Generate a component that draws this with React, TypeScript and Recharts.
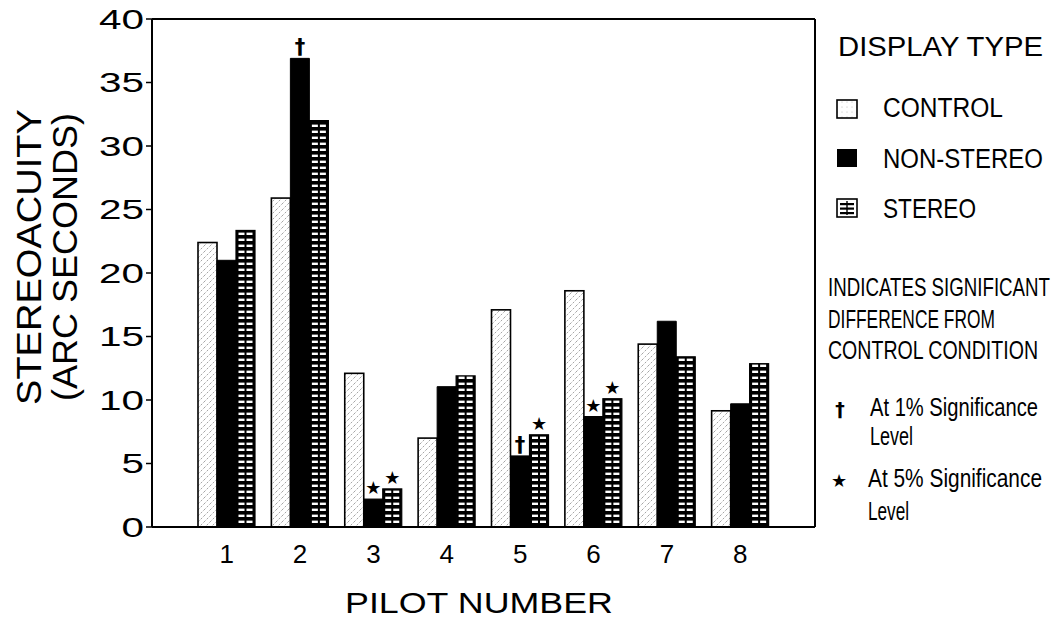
import React from "react";
import {
  BarChart,
  Bar,
  XAxis,
  YAxis,
  LabelList,
  Label,
  Legend,
} from "recharts";

const pilots = ["1", "2", "3", "4", "5", "6", "7", "8"];
const control = [22.4, 25.9, 12.1, 7.0, 17.1, 18.6, 14.4, 9.15];
const nonStereo = [21.0, 36.9, 2.2, 11.05, 5.6, 8.7, 16.2, 9.7];
const stereo = [23.35, 32.0, 3.0, 11.9, 7.26, 10.1, 13.4, 12.86];
const nonStereoMarks = ["", "†", "★", "", "†", "★", "", ""];
const stereoMarks = ["", "", "★", "", "★", "★", "", ""];
const yTicks = [0, 5, 10, 15, 20, 25, 30, 35, 40];

const data = pilots.map((p, i) => ({
  pilot: p,
  control: control[i],
  nonStereo: nonStereo[i],
  stereo: stereo[i],
}));

const FONT = "'Liberation Sans', Arial, Helvetica, sans-serif";

const ControlShape = (props: any) => {
  const { x, y, width, height } = props;
  return (
    <rect
      x={x}
      y={y}
      width={width}
      height={height}
      fill="url(#ctrlHatch)"
      stroke="#000"
      strokeWidth={1.6}
    />
  );
};

const StereoShape = (props: any) => {
  const { x, y, width, height } = props;
  const rows: number[] = [];
  for (let yy = y + height - 4; yy > y + 3; yy -= 6) rows.push(yy);
  const dw = (width - 7) / 2;
  return (
    <g>
      <rect x={x} y={y} width={width} height={height} fill="#000" stroke="#000" strokeWidth={1.2} />
      {rows.map((yy, k) => (
        <g key={k}>
          <rect x={x + 2.5} y={yy - 2.4} width={dw} height={2.4} fill="#fff" />
          <rect x={x + width / 2 + 1} y={yy - 2.4} width={dw} height={2.4} fill="#fff" />
        </g>
      ))}
    </g>
  );
};

const makeMarker = (marks: string[]) => (props: any) => {
  const { x, y, width, index } = props;
  const m = marks[index];
  if (!m) return null;
  const isDagger = m === "†";
  return (
    <text
      x={x + width / 2}
      y={y - (isDagger ? 4 : 5)}
      textAnchor="middle"
      fontSize={isDagger ? 21 : 18}
      fontWeight={isDagger ? "bold" : "normal"}
      fontFamily="'DejaVu Sans', sans-serif"
      fill="#000"
    >
      {m}
    </text>
  );
};

const YTick = (props: any) => {
  const { x, y, payload } = props;
  const s = String(payload.value);
  return (
    <text
      x={x}
      y={y + 9.5}
      textAnchor="end"
      fontSize={27}
      fontFamily={FONT}
      fill="#000"
      textLength={22.5 * s.length}
      lengthAdjust="spacingAndGlyphs"
    >
      {s}
    </text>
  );
};

const YLabel = (props: any) => {
  const vb = props.viewBox || { y: 20, height: 507 };
  const cy = vb.y + vb.height / 2 - 16;
  return (
    <g fontFamily={FONT} fill="#000">
      <text
        transform={`translate(41, ${cy}) rotate(-90)`}
        textAnchor="middle"
        fontSize={35}
        textLength={296}
        lengthAdjust="spacingAndGlyphs"
      >
        STEREOACUITY
      </text>
      <text
        transform={`translate(77, ${cy}) rotate(-90)`}
        textAnchor="middle"
        fontSize={35}
        textLength={288}
        lengthAdjust="spacingAndGlyphs"
      >
        (ARC SECONDS)
      </text>
    </g>
  );
};

const XLabel = () => (
  <text
    x={345}
    y={613}
    fontSize={30}
    fontFamily={FONT}
    fill="#000"
    textLength={268}
    lengthAdjust="spacingAndGlyphs"
  >
    PILOT NUMBER
  </text>
);

const T = (p: { x: number; y: number; w: number; s: number; sx: number; children: string }) => (
  <text
    transform={`translate(${p.x - 820}, ${p.y}) scale(${p.sx}, 1)`}
    fontSize={p.s}
    fontFamily={FONT}
    fill="#000"
    textLength={p.w / p.sx}
    lengthAdjust="spacingAndGlyphs"
  >
    {p.children}
  </text>
);

const LegendContent = () => (
  <svg width={240} height={621} style={{ display: "block" }}>
    <T x={838} y={56} w={205} s={27} sx={1}>DISPLAY TYPE</T>
    <rect x={837 - 820} y={100} width={20} height={18} fill="url(#ctrlHatchL)" stroke="#000" strokeWidth={1.6} />
    <T x={883} y={117} w={120} s={27} sx={0.92}>CONTROL</T>
    <rect x={837 - 820} y={149} width={20} height={18} fill="#000" />
    <T x={883} y={168} w={160} s={27} sx={0.9}>NON-STEREO</T>
    <rect x={837 - 820} y={199} width={20} height={18} fill="#fff" stroke="#000" strokeWidth={1.6} />
    <rect x={837 - 820 + 3} y={203} width={14} height={2.2} fill="#000" />
    <rect x={837 - 820 + 3} y={207.5} width={14} height={2.2} fill="#000" />
    <rect x={837 - 820 + 3} y={212} width={14} height={2.2} fill="#000" />
    <rect x={837 - 820 + 9.3} y={201} width={1.4} height={14} fill="#000" />
    <T x={883} y={218} w={93} s={27} sx={0.86}>STEREO</T>
    <T x={828} y={296} w={222} s={26} sx={0.7}>INDICATES SIGNIFICANT</T>
    <T x={828} y={328} w={167} s={26} sx={0.66}>DIFFERENCE FROM</T>
    <T x={828} y={359} w={210} s={26} sx={0.75}>CONTROL CONDITION</T>
    <text x={840 - 820} y={416} fontSize={19} fontWeight="bold" fontFamily="'DejaVu Sans', sans-serif" textAnchor="middle">†</text>
    <T x={870} y={416} w={168} s={26} sx={0.74}>At 1% Significance</T>
    <T x={870} y={445} w={43} s={26} sx={0.68}>Level</T>
    <text x={839 - 820} y={487} fontSize={18} fontFamily="'DejaVu Sans', sans-serif" textAnchor="middle">★</text>
    <T x={868} y={487} w={174} s={26} sx={0.76}>At 5% Significance</T>
    <T x={868} y={520} w={41} s={26} sx={0.65}>Level</T>
  </svg>
);

export default function App() {
  return (
    <div style={{ position: "absolute", left: 0, top: 0, width: 1060, height: 621, background: "#fff" }}>
      <BarChart
        width={1060}
        height={621}
        data={data}
        margin={{ top: 18, right: 244, bottom: 54, left: 82 }}
        barSize={19}
        barGap={0}
      >
        <defs>
          <pattern id="ctrlHatch" patternUnits="userSpaceOnUse" width="6" height="6">
            <rect width="6" height="6" fill="#fff" />
            <path d="M0,6 L6,0" stroke="#8c8c8c" strokeWidth="0.8" strokeDasharray="2.2 1.6" />
          </pattern>
          <pattern id="ctrlHatchL" patternUnits="userSpaceOnUse" width="5" height="5">
            <rect width="5" height="5" fill="#fff" />
            <circle cx="2" cy="2" r="0.5" fill="#aaa" />
          </pattern>
        </defs>
        <XAxis
          dataKey="pilot"
          height={40}
          padding={{ left: 38, right: 38 }}
          tickLine={false}
          tickSize={6}
          tickMargin={12}
          axisLine={{ stroke: "#000", strokeWidth: 2 }}
          tick={{ fill: "#000", fontSize: 26, fontFamily: FONT }}
        >
          <Label content={<XLabel />} />
        </XAxis>
        <XAxis
          xAxisId="top"
          dataKey="pilot"
          orientation="top"
          height={1}
          padding={{ left: 38, right: 38 }}
          tick={false}
          tickLine={false}
          axisLine={{ stroke: "#000", strokeWidth: 2 }}
        />
        <YAxis
          width={70}
          domain={[0, 40]}
          ticks={yTicks}
          interval={0}
          tickSize={6}
          tickMargin={2}
          axisLine={{ stroke: "#000", strokeWidth: 2 }}
          tickLine={{ stroke: "#000", strokeWidth: 1.5 }}
          tick={<YTick />}
        >
          <Label content={<YLabel />} />
        </YAxis>
        <YAxis
          yAxisId="right"
          orientation="right"
          width={1}
          domain={[0, 40]}
          tick={false}
          tickLine={false}
          axisLine={{ stroke: "#000", strokeWidth: 2 }}
        />
        <Legend
          layout="vertical"
          align="center"
          verticalAlign="middle"
          content={<LegendContent />}
          wrapperStyle={{ position: "absolute", left: 820, top: 0, width: 240, height: 621 }}
        />
        <Bar dataKey="control" name="CONTROL" shape={<ControlShape />} isAnimationActive={false} />
        <Bar dataKey="nonStereo" name="NON-STEREO" fill="#000" stroke="#000" strokeWidth={1} isAnimationActive={false}>
          <LabelList dataKey="nonStereo" content={makeMarker(nonStereoMarks)} />
        </Bar>
        <Bar dataKey="stereo" name="STEREO" shape={<StereoShape />} isAnimationActive={false}>
          <LabelList dataKey="stereo" content={makeMarker(stereoMarks)} />
        </Bar>
      </BarChart>
    </div>
  );
}
